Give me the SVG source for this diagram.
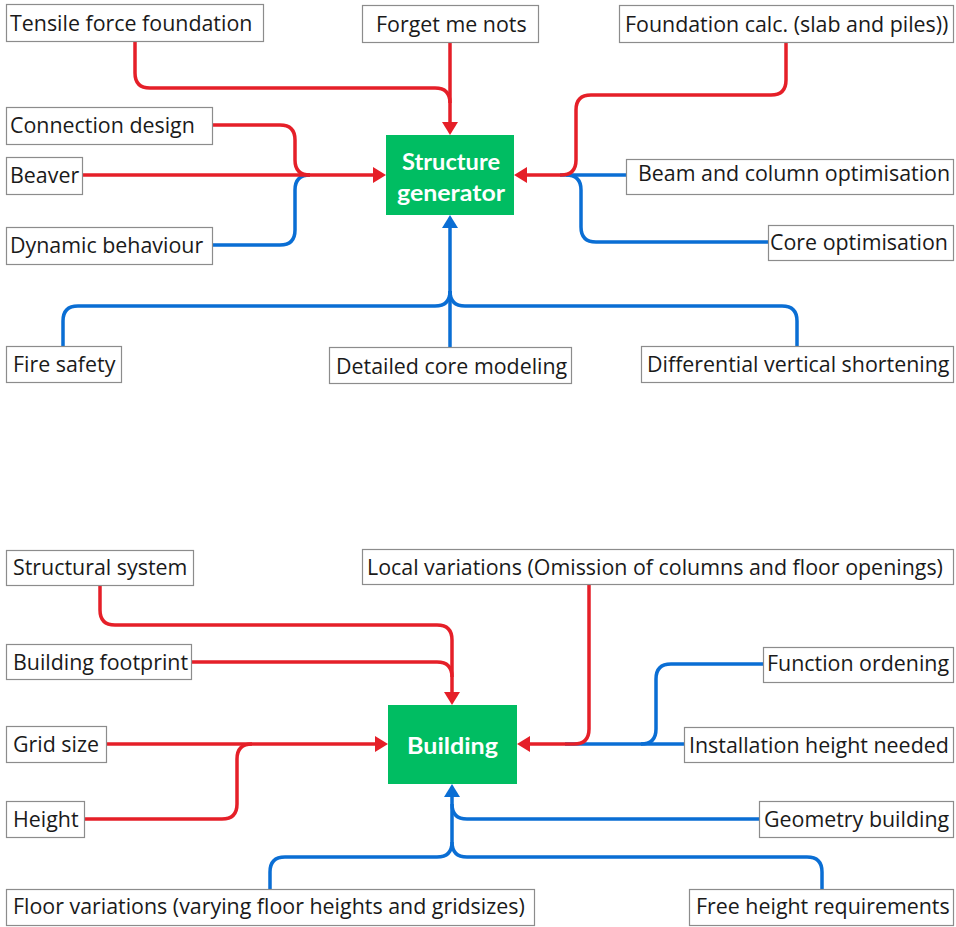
<svg xmlns="http://www.w3.org/2000/svg" width="956" height="927" viewBox="0 0 956 927">
  <style>
    .lbl rect { fill: #ffffff; stroke: #8c8c8c; stroke-width: 1.2; }
    .lbl text { font-family: "Open Sans", "Noto Sans", sans-serif; font-size: 21.4px; fill: #1a1a1a; }
    .hub rect { fill: #00bd62; }
    .hub text { font-family: "Lato", "Liberation Sans", sans-serif; font-weight: 700; font-size: 23px; fill: #ffffff; text-anchor: middle; }
    .red { fill: none; stroke: #e51f28; stroke-width: 3.5; }
    .blue { fill: none; stroke: #0a6ed4; stroke-width: 3.5; }
  </style>
  <defs>
    <marker id="arr-red" viewBox="0 0 13 16" refX="3" refY="8" markerWidth="13" markerHeight="16" markerUnits="userSpaceOnUse" orient="auto">
      <path d="M0,0 L13,8 L0,16 z" fill="#e51f28"/>
    </marker>
    <marker id="arr-blue" viewBox="0 0 13 16" refX="3" refY="8" markerWidth="13" markerHeight="16" markerUnits="userSpaceOnUse" orient="auto">
      <path d="M0,0 L13,8 L0,16 z" fill="#0a6ed4"/>
    </marker>
  </defs>

  <!-- connectors -->
  <g id="connectors">
    <!-- structure generator: blue inputs -->
    <path class="blue" d="M213,245 H280 Q295,245 295,230 V190 Q295,175 310,175"/>
    <path class="blue" d="M626,175 H560"/>
    <path class="blue" d="M768,242 H596 Q581,242 581,227 V190 Q581,175 566,175"/>
    <path class="blue" d="M450,347 V225" marker-end="url(#arr-blue)"/>
    <path class="blue" d="M63,347 V321 Q63,306 78,306 H435 Q450,306 450,291"/>
    <path class="blue" d="M797,347 V321 Q797,306 782,306 H465 Q450,306 450,291"/>
    <!-- structure generator: red inputs -->
    <path class="red" d="M135,42 V73 Q135,88 150,88 H435 Q450,88 450,103"/>
    <path class="red" d="M450,43 V125" marker-end="url(#arr-red)"/>
    <path class="red" d="M213,125 H280 Q295,125 295,140 V160 Q295,175 310,175"/>
    <path class="red" d="M83,175 H376" marker-end="url(#arr-red)"/>
    <path class="red" d="M786,43 V80 Q786,95 771,95 H591 Q576,95 576,110 V160 Q576,175 561,175 H524" marker-end="url(#arr-red)"/>

    <!-- building: blue inputs -->
    <path class="blue" d="M763,664 H671 Q656,664 656,679 V729 Q656,744 641,744"/>
    <path class="blue" d="M684,744 H565"/>
    <path class="blue" d="M759,819 H467 Q452,819 452,804"/>
    <path class="blue" d="M270,889 V872 Q270,857 285,857 H437 Q452,857 452,842 V794" marker-end="url(#arr-blue)"/>
    <path class="blue" d="M822,889 V872 Q822,857 807,857 H467 Q452,857 452,842"/>
    <!-- building: red inputs -->
    <path class="red" d="M100,586 V610 Q100,625 115,625 H437 Q452,625 452,640 V695" marker-end="url(#arr-red)"/>
    <path class="red" d="M191,662 H437 Q452,662 452,677"/>
    <path class="red" d="M589,585 V729 Q589,744 574,744 H527" marker-end="url(#arr-red)"/>
    <path class="red" d="M107,744 H378" marker-end="url(#arr-red)"/>
    <path class="red" d="M84,819 H222 Q237,819 237,804 V759 Q237,744 252,744"/>
  </g>

  <!-- central nodes -->
  <g id="structure-generator" class="hub">
    <rect x="386" y="135" width="128" height="80"/>
    <text x="451" y="170" textLength="98" lengthAdjust="spacingAndGlyphs">Structure</text>
    <text x="451" y="201" textLength="108" lengthAdjust="spacingAndGlyphs">generator</text>
  </g>
  <g id="building" class="hub">
    <rect x="388" y="705" width="129" height="79"/>
    <text x="452.5" y="754" textLength="91" lengthAdjust="spacingAndGlyphs">Building</text>
  </g>

  <!-- structure generator inputs -->
  <g id="tensile-force-foundation" class="lbl">
    <rect x="6.5" y="4.5" width="257" height="37"/>
    <text x="10" y="31">Tensile force foundation</text>
  </g>
  <g id="forget-me-nots" class="lbl">
    <rect x="362.5" y="5.5" width="176" height="37"/>
    <text x="376" y="32">Forget me nots</text>
  </g>
  <g id="foundation-calc" class="lbl">
    <rect x="619.5" y="5.5" width="334" height="37"/>
    <text x="625" y="32">Foundation calc. (slab and piles))</text>
  </g>
  <g id="connection-design" class="lbl">
    <rect x="6.5" y="107.5" width="206" height="37"/>
    <text x="10" y="133">Connection design</text>
  </g>
  <g id="beaver" class="lbl">
    <rect x="6.5" y="157.5" width="76" height="37"/>
    <text x="10" y="183">Beaver</text>
  </g>
  <g id="dynamic-behaviour" class="lbl">
    <rect x="6.5" y="227.5" width="206" height="37"/>
    <text x="10" y="253">Dynamic behaviour</text>
  </g>
  <g id="beam-column-optimisation" class="lbl">
    <rect x="626.5" y="159.5" width="327" height="35"/>
    <text x="638" y="181">Beam and column optimisation</text>
  </g>
  <g id="core-optimisation" class="lbl">
    <rect x="768.5" y="225.5" width="185" height="35"/>
    <text x="770" y="250">Core optimisation</text>
  </g>
  <g id="fire-safety" class="lbl">
    <rect x="6.5" y="346.5" width="115" height="36"/>
    <text x="13" y="372">Fire safety</text>
  </g>
  <g id="detailed-core-modeling" class="lbl">
    <rect x="329.5" y="347.5" width="242" height="36"/>
    <text x="336" y="374">Detailed core modeling</text>
  </g>
  <g id="differential-vertical-shortening" class="lbl">
    <rect x="641.5" y="346.5" width="312" height="36"/>
    <text x="647" y="372">Differential vertical shortening</text>
  </g>

  <!-- building inputs -->
  <g id="structural-system" class="lbl">
    <rect x="6.5" y="550.5" width="187" height="35"/>
    <text x="13" y="575">Structural system</text>
  </g>
  <g id="local-variations" class="lbl">
    <rect x="362.5" y="549.5" width="591" height="35"/>
    <text x="367" y="575">Local variations (Omission of columns and floor openings)</text>
  </g>
  <g id="building-footprint" class="lbl">
    <rect x="6.5" y="644.5" width="185" height="35"/>
    <text x="13" y="670">Building footprint</text>
  </g>
  <g id="function-ordening" class="lbl">
    <rect x="763.5" y="647.5" width="190" height="35"/>
    <text x="767" y="671">Function ordening</text>
  </g>
  <g id="grid-size" class="lbl">
    <rect x="6.5" y="726.5" width="100" height="36"/>
    <text x="13" y="752">Grid size</text>
  </g>
  <g id="installation-height-needed" class="lbl">
    <rect x="684.5" y="727.5" width="269" height="35"/>
    <text x="689" y="753">Installation height needed</text>
  </g>
  <g id="height" class="lbl">
    <rect x="6.5" y="801.5" width="78" height="36"/>
    <text x="13" y="827">Height</text>
  </g>
  <g id="geometry-building" class="lbl">
    <rect x="759.5" y="801.5" width="194" height="36"/>
    <text x="764" y="827">Geometry building</text>
  </g>
  <g id="floor-variations" class="lbl">
    <rect x="6.5" y="889.5" width="528" height="36"/>
    <text x="13" y="914">Floor variations (varying floor heights and gridsizes)</text>
  </g>
  <g id="free-height-requirements" class="lbl">
    <rect x="689.5" y="889.5" width="264" height="36"/>
    <text x="696" y="914">Free height requirements</text>
  </g>
</svg>
